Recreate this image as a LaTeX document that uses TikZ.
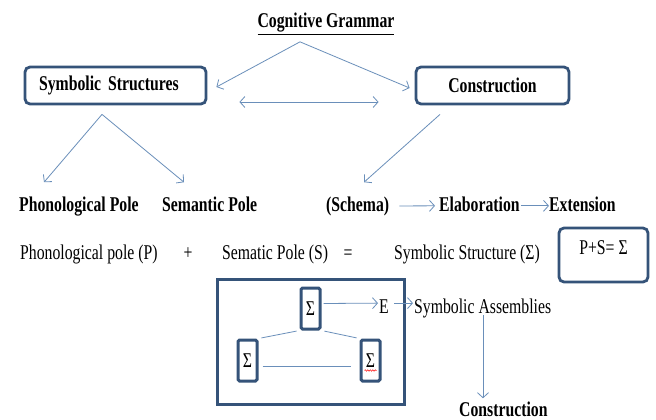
\documentclass[tikz,border=0pt]{standalone}
\usepackage{fontspec}
\newfontfamily\tnr[FakeStretch=0.75]{Liberation Serif}
\usetikzlibrary{arrows.meta,calc,decorations.pathmorphing}
\definecolor{boxc}{HTML}{355379}
\definecolor{arrc}{HTML}{6A8FBA}
\newcommand\bsz{\tnr\bfseries\fontsize{21}{24}\selectfont}
\newcommand\rsz{\tnr\fontsize{21}{24}\selectfont}
\begin{document}
\begin{tikzpicture}[x=1pt,y=-1pt,
  btext/.style={font=\bsz, inner sep=0pt},
  rtext/.style={font=\rsz, inner sep=0pt},
  rbox/.style={draw=boxc, line width=2.8pt, rounded corners=5pt, fill=white},
  sbox/.style={draw=boxc, line width=3pt, rounded corners=1.5pt, minimum width=19pt, minimum height=41pt, inner sep=0pt, font=\rsz, fill=white},
  arr/.style={draw=arrc, line width=0.8pt, -{Straight Barb[length=5pt,width=11pt]}},
  darr/.style={draw=arrc, line width=0.8pt, {Straight Barb[length=5pt,width=11pt]}-{Straight Barb[length=5pt,width=11pt]}},
  ln/.style={draw=arrc, line width=0.8pt},
]
\fill[white] (0,0) rectangle (656,420);
\useasboundingbox (0,0) rectangle (656,420);

% title and top boxes
\node[btext, anchor=base] (cg) at (326,28) {\underline{Cognitive Grammar}};
\coordinate (cgs) at ($(cg.south)+(-26,7)$);
\node[rbox, minimum height=37pt, text width=153pt, inner xsep=14pt, inner ysep=0pt, align=left, font=\bsz] (ss) at (115.5,85.5) {Symbolic Structures};
\node[rbox, minimum width=153pt, minimum height=37pt, inner sep=0pt, font=\bsz] (co) at (492.5,85.5) {Construction};
\draw[arr] (cgs) -- ($(ss.east)+(9,1.5)$);
\draw[arr] (cgs) -- ($(co.west)+(-5,2.5)$);
\draw[darr] ($(ss.east)+(32,16.5)$) -- ($(co.west)+(-36,16.5)$);

% second row
\node[btext, anchor=base west] (pp) at (19,211) {Phonological Pole};
\node[btext, anchor=base west] (sp) at (162,211) {Semantic Pole};
\node[btext, anchor=base west] (sch) at (326,211) {(Schema)};
\node[btext, anchor=base west] (elab) at (439,211) {Elaboration};
\node[btext, anchor=base west] (ext) at (549,211) {Extension};
\coordinate (ssb) at ($(ss.south)+(-13.5,9)$);
\coordinate (cob) at ($(co.south)+(-52.5,9)$);
\draw[arr] (ssb) -- ($(pp.north west)+(25,-14)$);
\draw[arr] (ssb) -- ($(sp.north west)+(22,-14)$);
\draw[arr] (cob) -- ($(sch.north west)+(38,-14)$);
\draw[arr] ($(sch.east)+(10,0)$) -- ($(elab.west)+(-4,2)$);
\draw[arr] ($(elab.east)+(1,2)$) -- ($(ext.west)+(0,2)$);

% third row
\node[rtext, anchor=base west] (ppl) at (20,259) {Phonological pole (P)};
\node[rtext, anchor=base] (plus) at (188,259) {+};
\node[rtext, anchor=base west] (sem) at (222,259) {Sematic Pole (S)};
\node[rtext, anchor=base] (eq) at (348,259) {=};
\node[rtext, anchor=base west] (sym) at (394,259) {Symbolic Structure (Σ)};
\node[rbox, minimum width=89pt, minimum height=54pt, inner sep=0pt, font=\rsz, text height=14pt, text depth=15pt] (pse) at (603.5,255) {P+S= Σ};

% symbolic assemblies
\node[draw=boxc, line width=3pt, minimum width=187pt, minimum height=125pt, inner sep=0pt] (big) at (310.5,341.5) {};
\node[sbox] (st) at (310.5,308.5) {Σ};
\node[sbox] (sl) at (247.5,360.5) {Σ};
\node[sbox] (sr) at (370.5,360.5) {Σ};
\draw[ln, shorten <=3pt, shorten >=3pt] (st.south west) -- (sl.north east);
\draw[ln, shorten <=3pt, shorten >=3pt] (st.south east) -- (sr.north west);
\draw[ln] ($(sl.east)+(4,5.5)$) -- ($(sr.west)+(-9,5.5)$);
\draw[red, line width=0.5pt, decorate, decoration={snake, amplitude=0.7pt, segment length=2.5pt}] ($(sr.center)+(-6,10)$) -- ($(sr.center)+(6,10)$);
\node[rtext, anchor=base west] (E) at (379,313) {E};
\node[rtext, anchor=base west] (sa) at (414,313) {Symbolic Assemblies};
\draw[arr] ($(st.east)+(2,-5)$) -- ($(E.west)+(-1,-3)$);
\draw[arr] ($(E.east)+(5,-3)$) -- ($(E.east -| sa.west)+(-1,-3)$);
\node[btext, anchor=base west] (cons) at (459,416) {Construction};
\coordinate (vtop) at ($(sa.base west)+(69,2)$);
\draw[arr, shorten >=3pt] (vtop) -- (vtop |- cons.north);
\end{tikzpicture}
\end{document}
